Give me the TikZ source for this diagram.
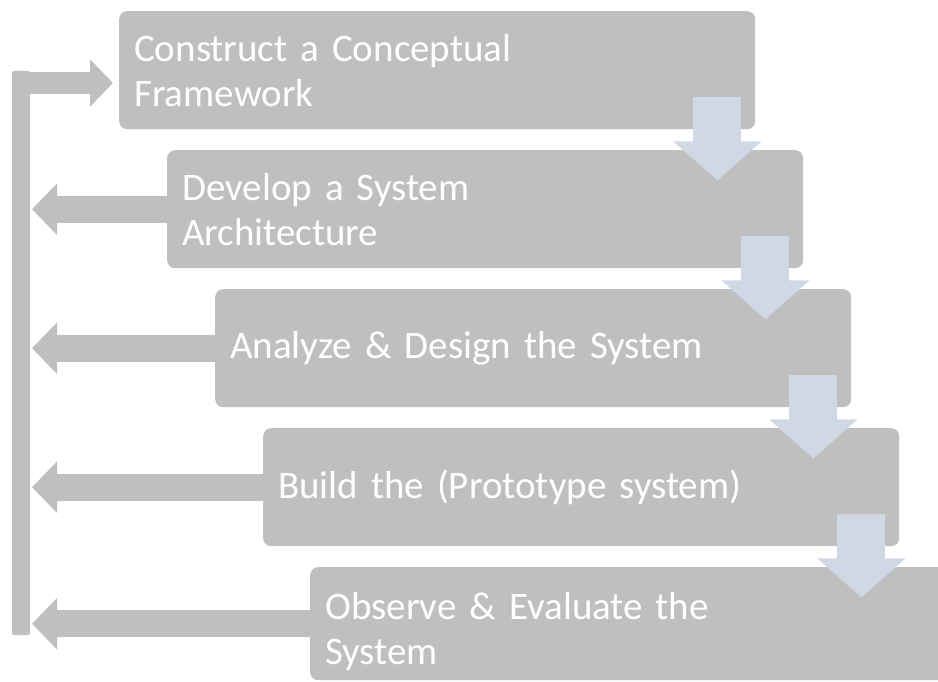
\documentclass[tikz,border=0pt]{standalone}
\usepackage{fontspec}
\setmainfont{Carlito}
\usetikzlibrary{arrows.meta} % For the wide block arrow heads

\definecolor{boxgray}{RGB}{191,191,191}
\definecolor{arrowblue}{RGB}{208,216,229}

\begin{document}
\begin{tikzpicture}[x=1pt, y=-1pt,
    stepbox/.style={rectangle, rounded corners=8pt, fill=boxgray, text=white,
                    minimum width=636pt, minimum height=118pt, text width=606pt,
                    inner xsep=15pt, inner ysep=0pt, align=left, anchor=north west,
                    font=\fontsize{39}{45}\selectfont},
    backarrow/.style={draw=boxgray, line width=27pt,
                      -{Triangle[width=50pt,length=25pt]}},
    nextarrow/.style={draw=arrowblue, line width=48pt,
                      -{Triangle[width=86pt,length=39pt]}}]
    \useasboundingbox (0,0) rectangle (938,682);

    % the five steps
    \node[stepbox] (b1) at (119,11) {Construct a Conceptual\\Framework};
    \node[stepbox] (b2) at (167,150) {Develop a System\\Architecture};
    \node[stepbox] (b3) at (215,289) {Analyze \& Design the System};
    \node[stepbox] (b4) at (263,428) {Build the (Prototype system)};
    \node[stepbox, minimum height=113pt] (b5) at (310,567)
        {\rule{0pt}{42pt}Observe \& Evaluate the\\System};

    % feedback loop on the left
    \coordinate (bar) at (32,0);
    \coordinate (loop) at (12,83);
    \fill[boxgray, rounded corners=2pt] (12,71) rectangle (30,635);
    \draw[backarrow, line width=22pt, -{Triangle[width=46pt,length=23pt]}]
        (loop) -- ([xshift=-6pt]b1.west |- loop);
    \foreach \n in {b2,b3,b4,b5}
        \draw[backarrow] (\n.west) -- (\n.west -| bar);

    % going down to the next step
    \foreach \a/\b in {b1/b2,b2/b3,b3/b4,b4/b5}
        \draw[nextarrow] ([shift={(-38,-32)}]\a.south east) -- ([shift={(-38,51)}]\a.south east);
\end{tikzpicture}
\end{document}
